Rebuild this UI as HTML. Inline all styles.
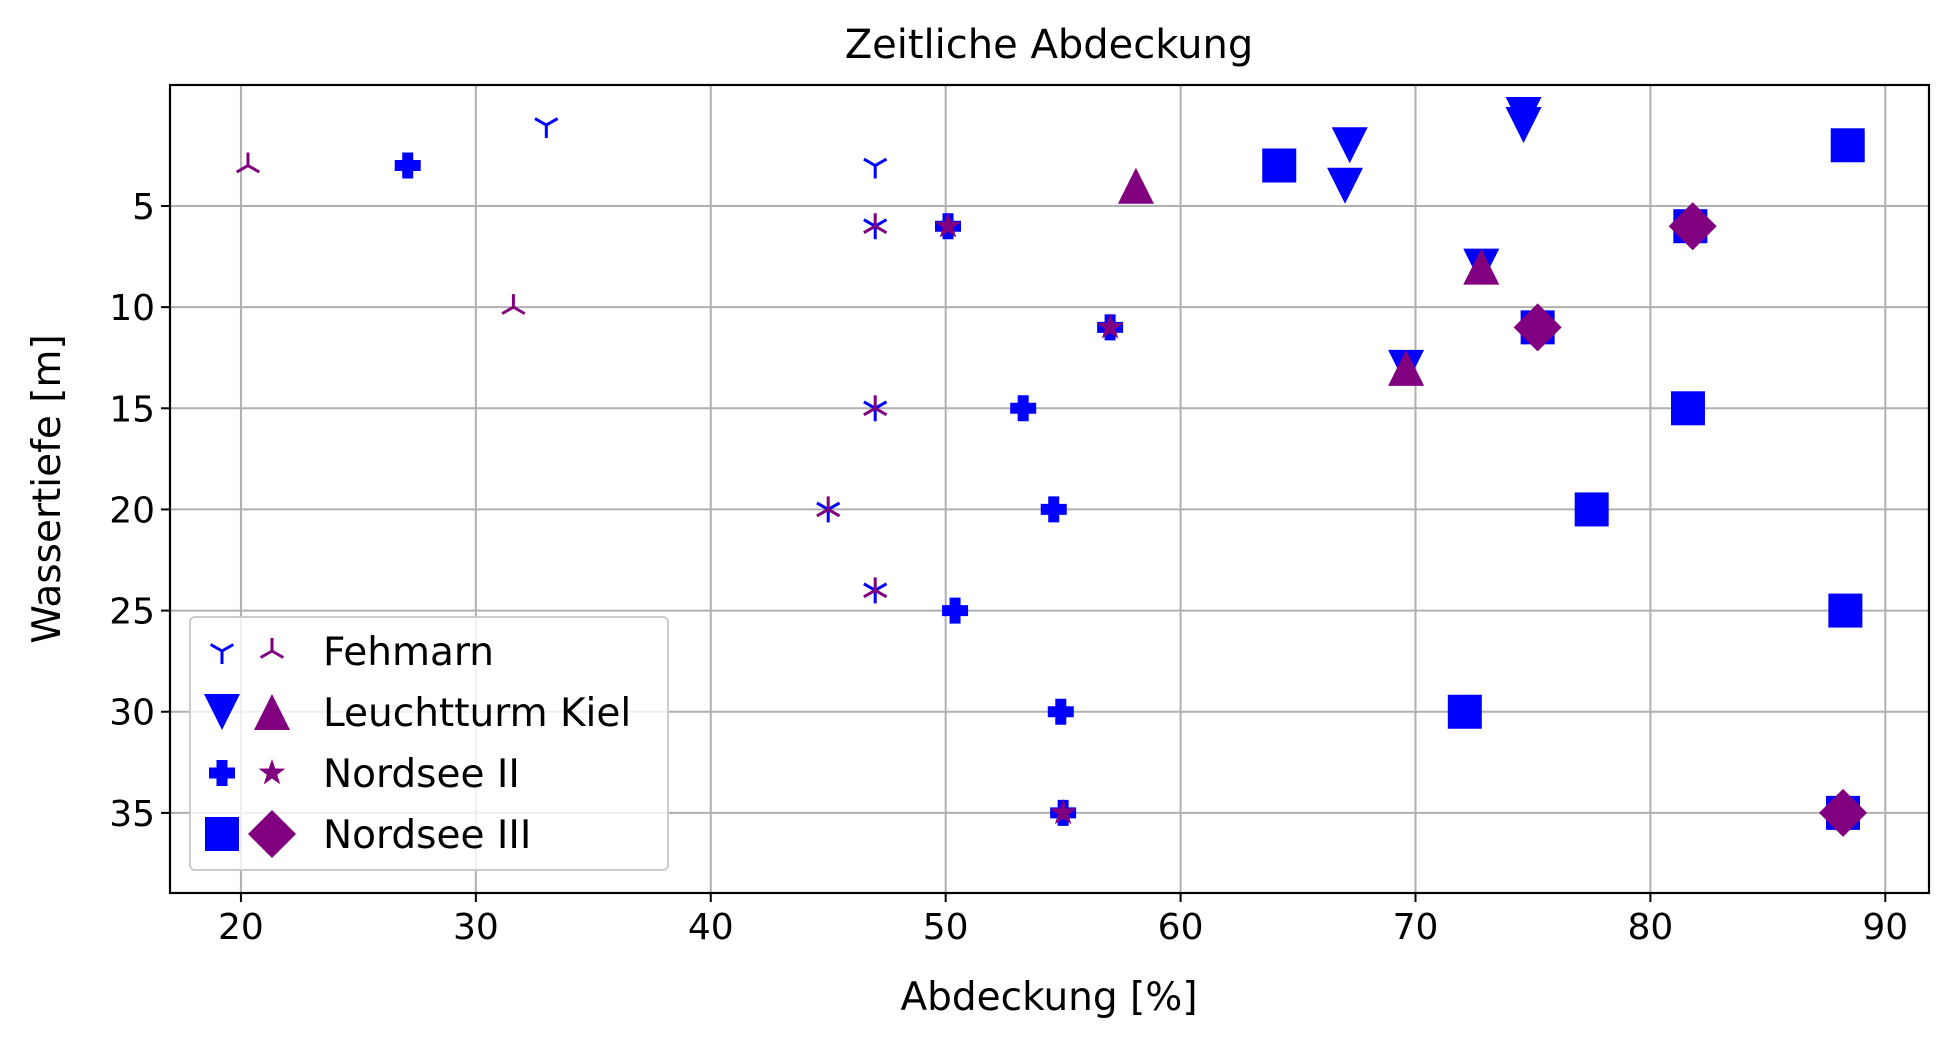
<!DOCTYPE html>
<html><head><meta charset="utf-8"><style>
html,body{margin:0;padding:0;background:#fff;}
svg{display:block;font-family:"DejaVu Sans","Liberation Sans",sans-serif;}
</style></head><body>
<svg id="chart" width="1958" height="1049" viewBox="0 0 1958 1049">
<rect width="1958" height="1049" fill="#fff"/>
<g id="grid"></g>
<g id="marks"></g>
<rect x="170" y="85" width="1759" height="808" fill="none" stroke="#000" stroke-width="2.2"/>
<g id="ticks"></g>
<text x="1049" y="58" font-size="40" text-anchor="middle">Zeitliche Abdeckung</text>
<text x="1049" y="1010" font-size="39" text-anchor="middle">Abdeckung [%]</text>
<text x="0" y="0" font-size="39" text-anchor="middle" transform="translate(60,489) rotate(-90)">Wassertiefe [m]</text>
<g id="legend">
<rect x="190" y="617" width="478" height="253" rx="5" fill="#fff" fill-opacity="0.8" stroke="#ccc" stroke-width="2"/>
</g>
</svg>
<script>
const xTicks=[20,30,40,50,60,70,80,90];
const yTicks=[5,10,15,20,25,30,35];
const fehBlueX=[33,47,47,47,45,47];
const fehBlueY=[1,3,6,15,20,24];
const fehPurpX=[20.3,31.6,47,47,45,47];
const fehPurpY=[3,10,6,15,20,24];
const kielBlueX=[74.6,74.6,67.2,67,72.8,69.6];
const kielBlueY=[0.5,1,2,4,8,13];
const kielPurpX=[58.1,72.8,69.6];
const kielPurpY=[4,8,13];
const ns2BlueX=[27.1,50.1,57,53.3,54.6,50.4,54.9,55];
const ns2BlueY=[3,6,11,15,20,25,30,35];
const ns2PurpX=[50.1,57,55];
const ns2PurpY=[6,11,35];
const ns3BlueX=[64.2,88.4,81.7,75.2,81.6,77.5,88.3,72.1,88.2];
const ns3BlueY=[3,2,6,11,15,20,25,30,35];
const ns3PurpX=[81.8,75.2,88.2];
const ns3PurpY=[6,11,35];

const NS='http://www.w3.org/2000/svg';
const X0=170,X1=1929,Y0=85,Y1=893,xmin=16.98,xmax=91.86,ymin=-0.98,ymax=38.96;
function sx(v){return X0+(v-xmin)/(xmax-xmin)*(X1-X0);}
function sy(v){return Y0+(v-ymin)/(ymax-ymin)*(Y1-Y0);}
function el(tag,attrs,parent){const e=document.createElementNS(NS,tag);for(const k in attrs)e.setAttribute(k,attrs[k]);parent.appendChild(e);return e;}
const grid=document.getElementById('grid'),ticks=document.getElementById('ticks'),marks=document.getElementById('marks');
xTicks.forEach(t=>{const x=sx(t);
 const g=el('line',{x1:x,x2:x,y1:Y0,y2:Y1,stroke:'#b0b0b0','stroke-width':2},grid);
 
 
 el('line',{x1:x,x2:x,y1:Y1,y2:Y1+9,stroke:'#000','stroke-width':2},ticks);
 const tx=el('text',{x:x,y:Y1+46,'font-size':36,'text-anchor':'middle'},ticks);tx.textContent=t;
 
 
});
yTicks.forEach(t=>{const y=sy(t);
 const g=el('line',{x1:X0,x2:X1,y1:y,y2:y,stroke:'#b0b0b0','stroke-width':2},grid);
 
 
 el('line',{x1:X0-9,x2:X0,y1:y,y2:y,stroke:'#000','stroke-width':2},ticks);
 const tx=el('text',{x:X0-15,y:y+13,'font-size':36,'text-anchor':'end'},ticks);tx.textContent=t;
 
 
});
function marker(type,cx,cy,color,parent){
 let e;
 if(type==='tridown'||type==='triup'){
  const s=type==='tridown'?1:-1,r=13;
  const d=`M${cx},${cy}L${cx},${cy+s*r}M${cx},${cy}L${cx-r*0.87},${cy-s*r*0.5}M${cx},${cy}L${cx+r*0.87},${cy-s*r*0.5}`;
  e=el('path',{d:d,stroke:color,'stroke-width':3,fill:'none'},parent);
 }else if(type==='v'){
  e=el('polygon',{points:`${cx-18},${cy-18} ${cx+18},${cy-18} ${cx},${cy+18}`,fill:color},parent);
 }else if(type==='^'){
  e=el('polygon',{points:`${cx-18},${cy+18} ${cx+18},${cy+18} ${cx},${cy-18}`,fill:color},parent);
 }else if(type==='P'){
  const a=13,b=5.5;
  e=el('path',{d:`M${cx-b},${cy-a}h${2*b}v${a-b}h${a-b}v${2*b}h${-(a-b)}v${a-b}h${-2*b}v${-(a-b)}h${-(a-b)}v${-2*b}h${a-b}z`,fill:color},parent);
 }else if(type==='*'){
  let p='';for(let i=0;i<10;i++){const r=i%2?5.5:14,ang=-Math.PI/2+i*Math.PI/5;p+=`${cx+r*Math.cos(ang)},${cy+r*Math.sin(ang)} `;}
  e=el('polygon',{points:p,fill:color},parent);
 }else if(type==='s'){
  e=el('rect',{x:cx-17,y:cy-17,width:34,height:34,fill:color},parent);
 }else if(type==='D'){
  e=el('polygon',{points:`${cx},${cy-24} ${cx+24},${cy} ${cx},${cy+24} ${cx-24},${cy}`,fill:color},parent);
 }
 return e;
}
const B='#0000ff',P='#800080';
const series=[
 [fehBlueX,fehBlueY,'tridown',B,'fehmarn-blue-point'],
 [fehPurpX,fehPurpY,'triup',P,'fehmarn-purple-point'],
 [kielBlueX,kielBlueY,'v',B,'kiel-blue-point'],
 [kielPurpX,kielPurpY,'^',P,'kiel-purple-point'],
 [ns2BlueX,ns2BlueY,'P',B,'nordsee2-blue-point'],
 [ns2PurpX,ns2PurpY,'*',P,'nordsee2-purple-point'],
 [ns3BlueX,ns3BlueY,'s',B,'nordsee3-blue-point'],
 [ns3PurpX,ns3PurpY,'D',P,'nordsee3-purple-point']];
const order=[0,2,4,6,1,3,5,7];
order.forEach(i=>{const s=series[i];
 s[0].forEach((xv,j)=>{const m=marker(s[2],sx(xv),sy(s[1][j]),s[3],marks);
  
  });
});
const legend=document.getElementById('legend');
const labels=['Fehmarn','Leuchtturm Kiel','Nordsee II','Nordsee III'];
const lt=[['tridown','triup'],['v','^'],['P','*'],['s','D']];
labels.forEach((l,i)=>{const y=651+i*61;
 const g=el('g',{},legend);
 
 
 marker(lt[i][0],222,y,B,g);marker(lt[i][1],272,y,P,g);
 const t=el('text',{x:323,y:y+14,'font-size':39},g);t.textContent=l;
});
</script>
</body></html>
